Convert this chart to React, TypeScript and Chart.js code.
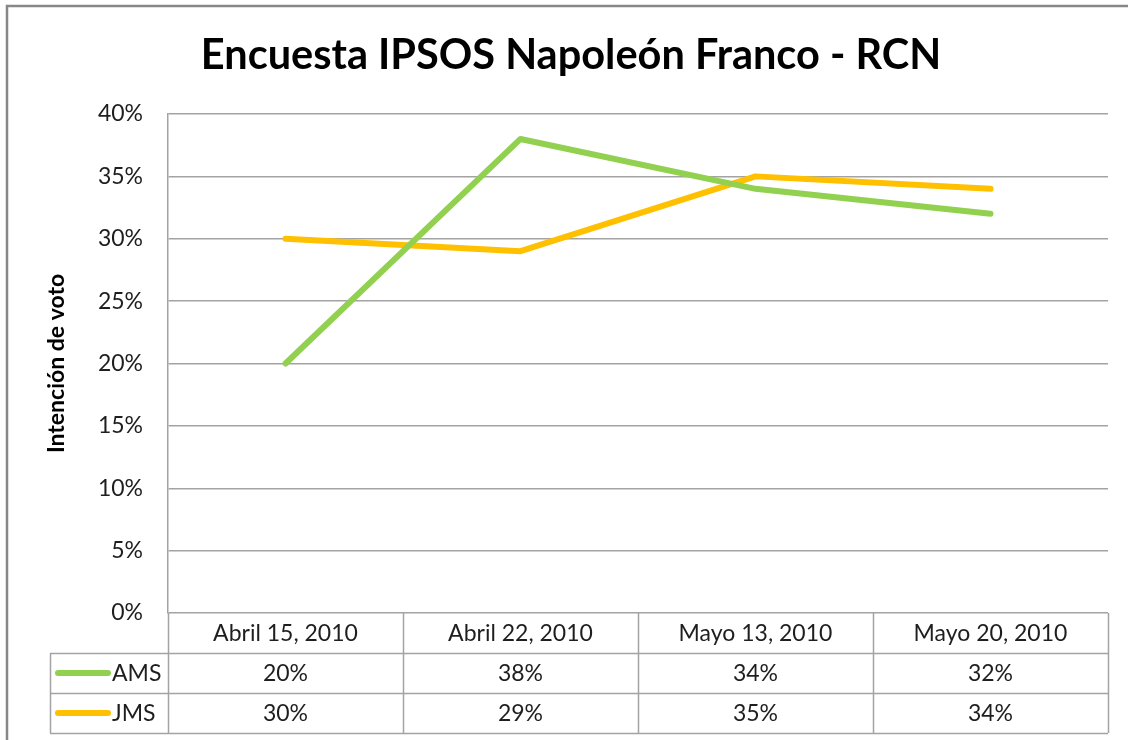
import React, { useEffect, useRef } from "react";
import Chart from "chart.js/auto";

const chartTitle = "Encuesta IPSOS Napoleón Franco - RCN";
const yAxisTitle = "Intención de voto";
const categories = ["Abril 15, 2010", "Abril 22, 2010", "Mayo 13, 2010", "Mayo 20, 2010"];
const amsValues = [20, 38, 34, 32];
const jmsValues = [30, 29, 35, 34];
const seriesNames = ["AMS", "JMS"];
const seriesColors = ["#92D050", "#FFC000"];
const yMin = 0;
const yMax = 40;
const yStep = 5;

const FONT = "Lato, 'Open Sans', sans-serif";
const GRID = "#a3a3a3";
const TEXT = "#1e1e1e";

const decorPlugin = {
  id: "decor",
  afterDraw(chart: any) {
    const ctx = chart.ctx as CanvasRenderingContext2D;
    const area = chart.chartArea;
    const xs = chart.scales.x;
    const seriesValues = [amsValues, jmsValues];
    ctx.save();

    // outer frame
    ctx.strokeStyle = "#878787";
    ctx.lineWidth = 2.5;
    ctx.strokeRect(7, 6, 1200, 800);

    // title
    ctx.fillStyle = "#000";
    ctx.font = `bold 41.5px ${FONT}`;
    ctx.textAlign = "center";
    ctx.textBaseline = "alphabetic";
    ctx.fillText(chartTitle, 571, 69);

    // y axis title
    ctx.save();
    ctx.translate(64, (area.top + area.bottom) / 2);
    ctx.rotate(-Math.PI / 2);
    ctx.font = `bold 23px ${FONT}`;
    ctx.textAlign = "center";
    ctx.textBaseline = "alphabetic";
    ctx.fillText(yAxisTitle, 0, 0);
    ctx.restore();

    // data table
    const n = categories.length;
    const colW = xs.getPixelForValue(1) - xs.getPixelForValue(0);
    const rowH = 40;
    const top = area.bottom;
    const tableLeft = 50;
    const rows = seriesValues.length + 1;
    ctx.strokeStyle = GRID;
    ctx.lineWidth = 1.5;
    ctx.beginPath();
    for (let i = 0; i <= n; i++) {
      const xx = i < n ? xs.getPixelForValue(i) - colW / 2 : xs.getPixelForValue(n - 1) + colW / 2;
      ctx.moveTo(Math.round(xx) + 0.5, top);
      ctx.lineTo(Math.round(xx) + 0.5, top + rows * rowH);
    }
    for (let r = 1; r <= rows; r++) {
      const yy = Math.round(top + r * rowH) + 0.5;
      ctx.moveTo(tableLeft, yy);
      ctx.lineTo(area.right, yy);
    }
    ctx.moveTo(tableLeft + 0.5, top + rowH);
    ctx.lineTo(tableLeft + 0.5, top + rows * rowH);
    ctx.stroke();

    ctx.fillStyle = TEXT;
    ctx.font = `23px ${FONT}`;
    ctx.textAlign = "center";
    ctx.textBaseline = "middle";
    categories.forEach((c, i) => {
      ctx.fillText(c, xs.getPixelForValue(i), top + rowH / 2 + 1);
    });
    seriesValues.forEach((vals, s) => {
      const cy = top + (s + 1) * rowH + rowH / 2 + 1;
      vals.forEach((v, i) => {
        ctx.fillStyle = TEXT;
        ctx.textAlign = "center";
        ctx.fillText(`${v}%`, xs.getPixelForValue(i), cy);
      });
      // legend key
      ctx.strokeStyle = seriesColors[s];
      ctx.lineWidth = 6;
      ctx.lineCap = "round";
      ctx.beginPath();
      ctx.moveTo(58, cy - 1);
      ctx.lineTo(108, cy - 1);
      ctx.stroke();
      ctx.fillStyle = TEXT;
      ctx.textAlign = "left";
      ctx.fillText(seriesNames[s], 112, cy);
    });
    ctx.restore();
  },
};

export default function App() {
  const ref = useRef<HTMLCanvasElement | null>(null);
  useEffect(() => {
    if (!ref.current) return;
    const chart = new Chart(ref.current, {
      type: "line",
      data: {
        labels: categories,
        datasets: [
          {
            label: seriesNames[0],
            data: amsValues,
            borderColor: seriesColors[0],
            backgroundColor: seriesColors[0],
            borderWidth: 6,
            borderCapStyle: "round",
            borderJoinStyle: "round",
            pointRadius: 0,
            tension: 0,
          },
          {
            label: seriesNames[1],
            data: jmsValues,
            borderColor: seriesColors[1],
            backgroundColor: seriesColors[1],
            borderWidth: 6,
            borderCapStyle: "round",
            borderJoinStyle: "round",
            pointRadius: 0,
            tension: 0,
          },
        ],
      },
      options: {
        animation: false,
        responsive: false,
        maintainAspectRatio: false,
        layout: { padding: { left: 0, top: 114, right: 20, bottom: 127 } },
        plugins: {
          legend: { display: false },
          title: { display: false },
          tooltip: { enabled: false },
        },
        scales: {
          x: {
            type: "category",
            display: false,
            offset: true,
          },
          y: {
            min: yMin,
            max: yMax,
            afterFit(scale: any) {
              scale.width = 168;
            },
            grid: { color: GRID, lineWidth: 1.5, drawTicks: false },
            border: { display: true, color: GRID, width: 1.5 },
            ticks: {
              stepSize: yStep,
              padding: 25,
              color: TEXT,
              font: { family: FONT, size: 23 },
              callback: (v: any) => `${v}%`,
            },
          },
        },
      },
      plugins: [decorPlugin],
    });
    return () => chart.destroy();
  }, []);
  return (
    <div style={{ position: "fixed", left: 0, top: 0, width: 1128, height: 740, background: "#fff" }}>
      <canvas ref={ref} width={1128} height={740} style={{ display: "block", width: 1128, height: 740 }} />
    </div>
  );
}
